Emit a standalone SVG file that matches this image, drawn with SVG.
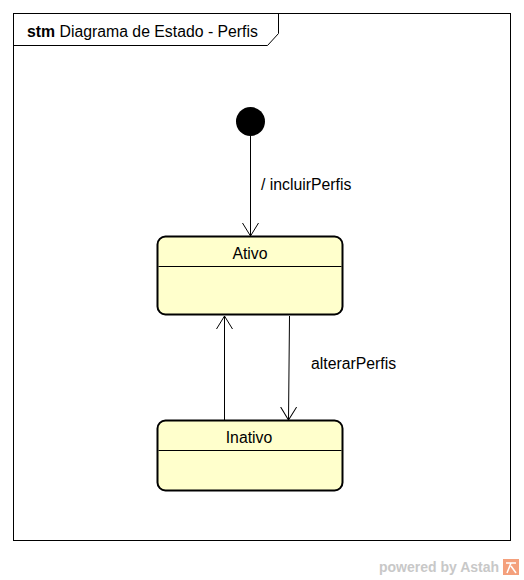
<svg xmlns="http://www.w3.org/2000/svg" width="524" height="580" viewBox="0 0 524 580">
  <style>
    .frame { fill: #ffffff; stroke: #000000; stroke-width: 1; }
    .state { fill: #ffffcc; stroke: #000000; stroke-width: 2; }
    .div { stroke: #000000; stroke-width: 1; }
    .edge { fill: none; stroke: #000000; stroke-width: 1; }
    .txt { font-family: "Liberation Sans", Arial, sans-serif; font-size: 15.8px; fill: #000000; }
    .logo { font-family: "Liberation Sans", Arial, sans-serif; font-size: 14px; font-weight: bold; fill: #c8c8c8; }
  </style>
  <defs>
    <marker id="open" markerWidth="20" markerHeight="20" refX="13" refY="10" orient="auto" markerUnits="userSpaceOnUse">
      <path d="M0,2 L13,10 L0,18" fill="none" stroke="#000000" stroke-width="1"/>
    </marker>
  </defs>
  <rect width="524" height="580" fill="#ffffff"/>

  <!-- diagram frame with title tab -->
  <g id="frame">
    <rect class="frame" x="13.5" y="13.5" width="497" height="527"/>
    <path class="edge" d="M13.5,45.5 H267.5 L278.5,33.5 V13.5"/>
    <text class="txt" x="27" y="37"><tspan font-weight="bold">stm</tspan> Diagrama de Estado - Perfis</text>
  </g>

  <!-- transitions -->
  <g id="connectors">
    <line class="edge" x1="250.5" y1="136" x2="250.5" y2="236" marker-end="url(#open)"/>
    <text class="txt" x="261" y="190">/ incluirPerfis</text>
    <line class="edge" x1="289.5" y1="316" x2="288.5" y2="420" marker-end="url(#open)"/>
    <text class="txt" x="311" y="369">alterarPerfis</text>
    <line class="edge" x1="224.5" y1="420" x2="224.5" y2="316" marker-end="url(#open)"/>
  </g>

  <!-- initial pseudostate -->
  <g id="initial">
    <circle cx="250.5" cy="121.5" r="14.5" fill="#000000"/>
  </g>

  <!-- state: Ativo -->
  <g id="ativo">
    <rect class="state" x="157.5" y="236.5" width="185" height="78" rx="8" ry="8"/>
    <line class="div" x1="158.5" y1="266.5" x2="341.5" y2="266.5"/>
    <text class="txt" x="250" y="259" text-anchor="middle">Ativo</text>
  </g>

  <!-- state: Inativo -->
  <g id="inativo">
    <rect class="state" x="157.5" y="420.5" width="185" height="70" rx="8" ry="8"/>
    <line class="div" x1="158.5" y1="450.5" x2="341.5" y2="450.5"/>
    <text class="txt" x="249" y="443" text-anchor="middle">Inativo</text>
  </g>

  <!-- footer mark -->
  <g id="footer">
    <text class="logo" x="379" y="572">powered by Astah</text>
    <rect x="503" y="559" width="16" height="16" fill="#f4a07c"/>
    <path d="M506,563 H516 M511,563 L507,573 M511,566 L516,573" stroke="#ffffff" stroke-width="1.5" fill="none"/>
  </g>
</svg>
